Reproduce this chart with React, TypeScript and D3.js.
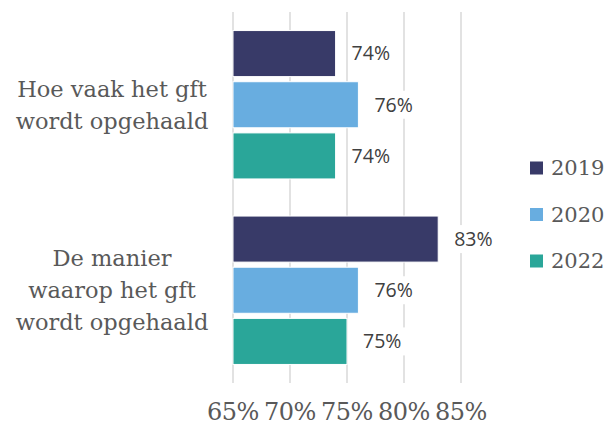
import React from "react";
import * as d3 from "d3";

const categories = ["Hoe vaak het gft wordt opgehaald", "De manier waarop het gft wordt opgehaald"];
const categoryLines = [
  ["Hoe vaak het gft", "wordt opgehaald"],
  ["De manier", "waarop het gft", "wordt opgehaald"],
];
const years = ["2019", "2020", "2022"];
const values2019 = [74, 83];
const values2020 = [76, 76];
const values2022 = [74, 75];
const ticks = [65, 70, 75, 80, 85];
const colors = ["#383a68", "#68ade0", "#2aa699"];

const W = 610;
const H = 427;
const serif = "'DejaVu Serif', serif";
const sans = "'Open Sans', 'DejaVu Sans', sans-serif";

export default function App() {
  const series = [values2019, values2020, values2022];
  const x = d3.scaleLinear().domain([65, 85]).range([233, 461]);
  const y0 = d3.scaleBand<string>().domain(categories).range([12, 383]).paddingInner(0.2).paddingOuter(0.1);
  const y1 = d3.scaleBand<string>().domain(years).range([0, y0.bandwidth()]).paddingInner(0.1);
  const fmt = (v: number) => `${v}%`;

  return (
    <svg width={W} height={H} style={{ position: "absolute", left: 0, top: 0, background: "#fff" }}>
      {ticks.map((t) => (
        <line key={t} x1={x(t)} x2={x(t)} y1={12} y2={383} stroke="#d9d9d9" strokeWidth={1.5} />
      ))}
      {categories.map((c, ci) => (
        <g key={c} transform={`translate(0,${y0(c)})`}>
          {years.map((yr, si) => {
            const v = series[si][ci];
            const by = y1(yr)!;
            const bh = y1.bandwidth();
            const lx = x(v) + 16;
            return (
              <g key={yr}>
                <rect x={x(65)} y={by} width={x(v) - x(65)} height={bh} fill={colors[si]} stroke="#fff" strokeWidth={1} />
                <rect x={lx - 3} y={by + bh / 2 - 14} width={48} height={28} fill="#fff" />
                <text x={lx} y={by + bh / 2} dy="0.35em" fontFamily={sans} fontSize={19.5} fill="#404040">
                  {fmt(v)}
                </text>
              </g>
            );
          })}
        </g>
      ))}
      {categories.map((c, ci) => {
        const lines = categoryLines[ci];
        const cy = y0(c)! + y0.bandwidth() / 2;
        const lh = 32;
        return (
          <text key={c} textAnchor="middle" fontFamily={serif} fontSize={22.5} fill="#595959">
            {lines.map((l, li) => (
              <tspan key={li} x={112} y={cy + (li - (lines.length - 1) / 2) * lh} dy="0.35em">
                {l}
              </tspan>
            ))}
          </text>
        );
      })}
      {ticks.map((t) => (
        <text key={t} x={x(t)} y={412} dy="0.35em" textAnchor="middle" fontFamily={serif} fontSize={24} letterSpacing={-0.5} fill="#595959">
          {fmt(t)}
        </text>
      ))}
      {years.map((yr, i) => (
        <g key={yr} transform={`translate(530,${168 + i * 46.5})`}>
          <rect x={0} y={-6.5} width={13} height={13} fill={colors[i]} />
          <text x={21} y={0} dy="0.35em" fontFamily={serif} fontSize={21} fill="#595959">
            {yr}
          </text>
        </g>
      ))}
    </svg>
  );
}
